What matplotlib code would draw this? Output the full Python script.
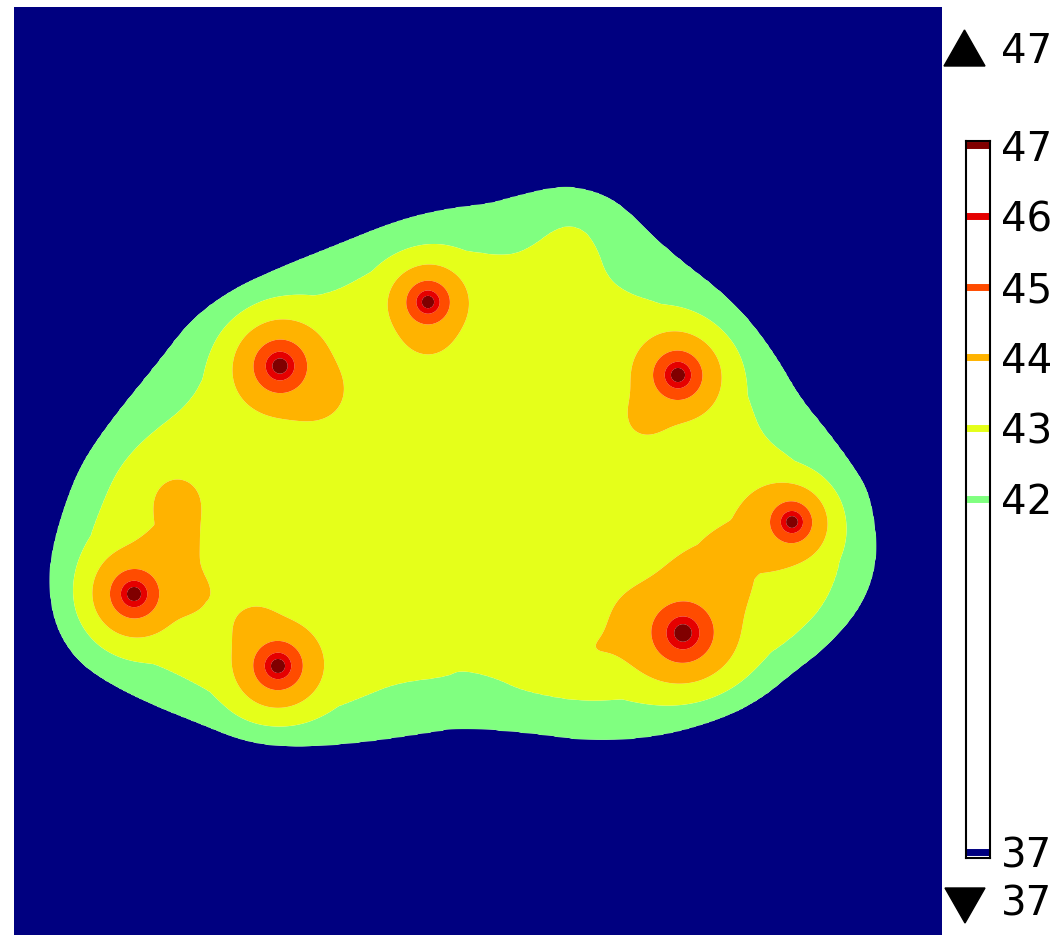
import numpy as np
import matplotlib
matplotlib.use("Agg")
import matplotlib.pyplot as plt
from matplotlib.path import Path
from matplotlib.patches import Polygon

# contour levels (temperature)
levels = [37, 42, 43, 44, 45, 46, 47]
t_lo, t_hi = 37, 47

# edge of the warm zone (42 contour), image pixel coords (x right, y down)
outer_x = [48, 53, 67, 83, 113, 157, 190, 230, 280, 330, 397, 447, 490, 510, 560, 593, 620, 647,
           677, 720, 750, 777, 800, 827, 853, 870, 878, 873, 857, 827, 793, 760, 720, 660, 593, 527,
           460, 430, 363, 297, 247, 197, 147, 97, 70, 53]
outer_y = [580, 543, 497, 460, 417, 363, 320, 290, 267, 247, 220, 208, 203, 197, 185, 190, 203, 230,
           257, 290, 320, 357, 397, 430, 465, 493, 543, 580, 613, 647, 673, 700, 720, 737, 742, 733,
           728, 733, 743, 748, 743, 723, 703, 677, 653, 620]

# 43 contour
inner_x = [80, 87, 107, 122, 147, 190, 207, 230, 263, 297, 330, 357, 390, 430, 463, 503, 527, 560,
           583, 597, 607, 627, 660, 693, 720, 737, 750, 763, 793, 827, 843, 840, 823, 793, 760, 727,
           677, 593, 527, 493, 460, 447, 397, 363, 330, 290, 247, 213, 163, 113, 87]
inner_y = [587, 543, 493, 465, 437, 403, 370, 330, 307, 298, 293, 280, 260, 248, 250, 256, 250, 225,
           228, 247, 277, 293, 303, 317, 337, 360, 403, 437, 460, 487, 527, 567, 607, 637, 660, 680,
           693, 703, 693, 677, 670, 677, 683, 697, 710, 720, 717, 693, 667, 650, 620]

# hot spots: centre and radius of the 45 ring
spot_x = [280, 428, 678, 792, 683, 134, 278]
spot_y = [366, 302, 375, 522, 633, 594, 666]
spot_r45 = [27, 22, 25, 21, 31, 25, 25]

# weaker warm lobes around the hot spots (shape the 44 contour)
lobe_x = [177, 178, 198, 325, 250, 428, 640, 738, 768, 700, 635, 588]
lobe_y = [500, 552, 595, 398, 618, 338, 425, 553, 515, 578, 622, 650]
lobe_amp = [1.0, 0.85, 0.7, 0.7, 0.6, 0.6, 0.7, 1.0, 0.6, 0.6, 0.7, 0.65]
lobe_w = [24, 26, 18, 24, 20, 18, 20, 32, 20, 26, 24, 17]


def jet(t):
    t = np.clip(t, 0, 1)
    r = np.clip(1.5 - abs(4 * t - 3), 0, 1)
    g = np.clip(1.5 - abs(4 * t - 2), 0, 1)
    b = np.clip(1.5 - abs(4 * t - 1), 0, 1)
    return (r, g, b)


def chaikin(xs, ys, n=3):
    p = np.column_stack([xs, ys]).astype(float)
    for _ in range(n):
        q = np.roll(p, -1, axis=0)
        p = np.column_stack([0.75 * p + 0.25 * q, 0.25 * p + 0.75 * q]).reshape(-1, 2)
    return p[:, 0], p[:, 1]


def signed_dist(px, py, xs, ys):
    xs, ys = chaikin(xs, ys)
    d = np.full(px.shape, np.inf)
    for i in range(len(xs)):
        x1, y1 = xs[i], ys[i]
        x2, y2 = xs[(i + 1) % len(xs)], ys[(i + 1) % len(xs)]
        dx, dy = x2 - x1, y2 - y1
        u = np.clip(((px - x1) * dx + (py - y1) * dy) / (dx * dx + dy * dy + 1e-9), 0, 1)
        d = np.minimum(d, np.hypot(px - x1 - u * dx, py - y1 - u * dy))
    inside = Path(np.column_stack([xs, ys])).contains_points(
        np.column_stack([px.ravel(), py.ravel()])).reshape(px.shape)
    return np.where(inside, d, -d)


X, Y = np.meshgrid(np.arange(14, 943, 2.0), np.arange(7, 936, 2.0))
d_out = signed_dist(X, Y, outer_x, outer_y)
d_in = signed_dist(X, Y, inner_x, inner_y)

base = np.where(d_out < 0, 42 + d_out / 10.0, 0.0)
band = (d_out >= 0) & (d_in < 0)
base = np.where(band, 42 + d_out / np.maximum(d_out - d_in, 1e-6), base)
base = np.where(d_in >= 0, 43 + 0.3 * np.tanh(d_in / 25.0), base)

amp = 1.6
hot = np.zeros_like(X)
for sx, sy, r45 in zip(spot_x, spot_y, spot_r45):
    R = r45 * np.exp((45 - 43.3) / amp)
    r = np.sqrt((X - sx) ** 2 + (Y - sy) ** 2 + 1.0)
    hot += amp * np.log(np.maximum(R / r, 1.0))
warm = np.zeros_like(X)
for lx, ly, la, lw in zip(lobe_x, lobe_y, lobe_amp, lobe_w):
    warm += la * np.exp(-((X - lx) ** 2 + (Y - ly) ** 2) / (2 * lw ** 2))
# lobes fade out close to the hot cores so the rings stay round
T = base + hot + warm / (1 + (hot / 0.9) ** 4)
T = np.clip(T, 37.001, 60)

colors = [jet((v - t_lo) / (t_hi - t_lo)) for v in levels]

fig = plt.figure(figsize=(10.57, 9.36), dpi=100)
ax = fig.add_axes([14 / 1057, 1 / 936, 928 / 1057, 928 / 936])
ax.contourf(X, Y, T, levels=levels + [100], colors=colors, antialiased=True)
ax.set_xlim(14, 942)
ax.set_ylim(935, 7)
ax.set_axis_off()

# contour legend
cax = fig.add_axes([966 / 1057, (936 - 858) / 936, 24 / 1057, 717 / 936])
cax.set_facecolor("white")
cax.set_ylim(t_lo - 0.08, t_hi + 0.06)
cax.set_xlim(0, 1)
for v, c in zip(levels, colors):
    cax.axhline(v, color=c, lw=5)
cax.set_xticks([])
cax.set_yticks(levels)
cax.set_yticklabels([str(v) for v in levels])
cax.tick_params(axis="y", direction="in", length=3, width=1, left=True, right=True,
                labelleft=False, labelright=True, labelsize=29, pad=8)
for s in cax.spines.values():
    s.set_linewidth(1.5)

# min / max markers
ov = fig.add_axes([0, 0, 1, 1])
ov.set_xlim(0, 1057)
ov.set_ylim(936, 0)
ov.set_axis_off()
ov.add_patch(Polygon([(944, 66), (985, 66), (964.5, 30)], color="black"))
ov.add_patch(Polygon([(945, 888), (985, 888), (965, 923)], color="black"))
ov.text(1001, 52, str(t_hi), fontsize=29, va="center", ha="left")
ov.text(1001, 905, str(t_lo), fontsize=29, va="center", ha="left")

fig.savefig("out.png", dpi=100)
